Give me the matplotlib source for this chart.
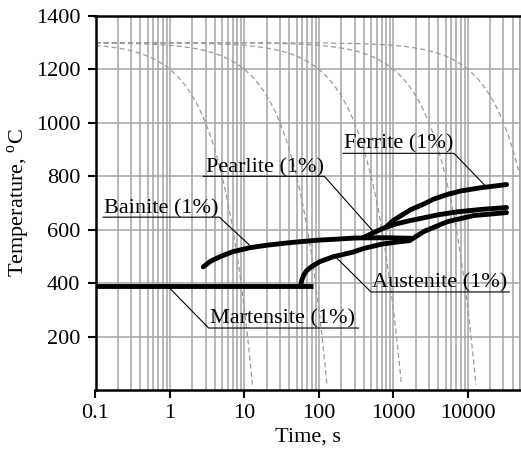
import numpy as np
import matplotlib
matplotlib.use('Agg')
import matplotlib.pyplot as plt
from matplotlib.ticker import FixedLocator, FixedFormatter, LogLocator, NullFormatter

plt.rcParams['font.family'] = 'Liberation Serif'
plt.rcParams['mathtext.fontset'] = 'custom'
plt.rcParams['mathtext.rm'] = 'Liberation Serif'

# Cooling paths (dashed): linear cooling from 1300 C down to room temperature
cool_rates = [100, 10, 1, 0.1, 0.01]  # C/s
cool_T_start = 1300
cool_T_end = 20

# 1% transformation start curves (time s, temperature C)
martensite_t = [0.1, 83]
martensite_T = [390, 390]

bainite_t = [2.8, 3.5, 4.7, 7, 12, 20, 36, 60, 100, 180, 310, 800, 1750]
bainite_T = [461, 482, 499, 518, 533, 542, 550, 556, 561, 565, 569, 570, 568]

austenite_t = [57, 58, 60, 62.5, 68, 78, 100, 152, 285, 400, 700, 1200, 1650,
               1750, 2550, 5300, 11900, 33000]
austenite_T = [390, 405, 418, 430, 446, 460, 479, 498, 516, 530, 546, 555, 559,
               564, 593, 630, 653, 664]

pearlite_t = [390, 550, 800, 1100, 1600, 2500, 4000, 7300, 15000, 33000]
pearlite_T = [570, 590, 610, 622, 633, 644, 656, 667, 676, 683]

ferrite_t = [800, 1000, 1300, 1700, 2500, 3500, 5300, 8000, 14800, 33000]
ferrite_T = [610, 635, 655, 675, 695, 715, 732, 745, 757, 769]

xticks = [0.1, 1, 10, 100, 1000, 10000]
xtick_labels = ['0.1', '1', '10', '100', '1000', '10000']
yticks = [200, 400, 600, 800, 1000, 1200, 1400]

fig = plt.figure(figsize=(5.21, 4.49), dpi=100)
ax = fig.add_axes([95.5 / 521, 59 / 449, 424.5 / 521, 374 / 449])

ax.set_xscale('log')
ax.set_xlim(0.1, 50000)
ax.set_ylim(0, 1400)

# grid
ax.xaxis.set_major_locator(FixedLocator(xticks))
ax.xaxis.set_major_formatter(FixedFormatter(xtick_labels))
ax.xaxis.set_minor_locator(LogLocator(base=10, subs=np.arange(2, 10)))
ax.xaxis.set_minor_formatter(NullFormatter())
ax.yaxis.set_major_locator(FixedLocator(yticks))
ax.grid(True, which='both', axis='x', color='#a4a4a4', lw=1.1)
ax.grid(True, which='major', axis='y', color='#a4a4a4', lw=1.1)
ax.set_axisbelow(True)

# dashed cooling paths (straight lines in linear time, densified for the log axis)
for r in cool_rates:
    t = np.geomspace(0.1, (cool_T_start - cool_T_end) / r, 400)
    ax.plot(t, cool_T_start - r * t, ls=(0, (4, 2.5)), color='#9a9a9a', lw=0.9)

kw = dict(color='black', lw=3.5, solid_capstyle='round', solid_joinstyle='round')
ax.plot(martensite_t, martensite_T, solid_capstyle='butt', color='black', lw=3.5)
ax.plot(bainite_t, bainite_T, **kw)
ax.plot(austenite_t, austenite_T, **kw)
ax.plot(pearlite_t, pearlite_T, **kw)
ax.plot(ferrite_t, ferrite_T, **kw)

# labels with leader lines and underlines
lead = dict(color='black', lw=0.8)
fs = 16
ax.plot([12.9, 4.6, 0.127], [531, 647, 647], **lead)
ax.text(0.13, 662, 'Bainite (1%)', fontsize=fs)

ax.plot([0.93, 3.3, 340], [389, 232, 232], **lead)
ax.plot([0.93], [389], 'o', color='black', ms=2.5)
ax.text(3.45, 249, 'Martensite (1%)', fontsize=fs)

ax.plot([158, 500, 36000], [505, 367, 367], **lead)
ax.text(520, 385, 'Austenite (1%)', fontsize=fs)

ax.plot([530, 118, 2.8], [595, 800, 800], **lead)
ax.text(3.0, 815, 'Pearlite (1%)', fontsize=fs)

ax.plot([17700, 6500, 210], [760, 886, 886], **lead)
ax.text(215, 903, 'Ferrite (1%)', fontsize=fs)

for s in ['left', 'bottom', 'top']:
    ax.spines[s].set_linewidth(1.8)
ax.spines['right'].set_color('#a4a4a4')
ax.spines['right'].set_linewidth(1.1)

ax.tick_params(which='major', axis='both', direction='out', length=6, width=1.5,
               labelsize=fs, pad=4)
ax.tick_params(which='minor', length=0)
ax.tick_params(axis='y', pad=5)
ax.tick_params(right=False, top=False)

ax.set_xlabel('Time, s', fontsize=fs, labelpad=3)
ax.set_ylabel(r'Temperature, $^{\mathrm{o}}$C', fontsize=fs, labelpad=3)

fig.savefig('out.png', dpi=100)
